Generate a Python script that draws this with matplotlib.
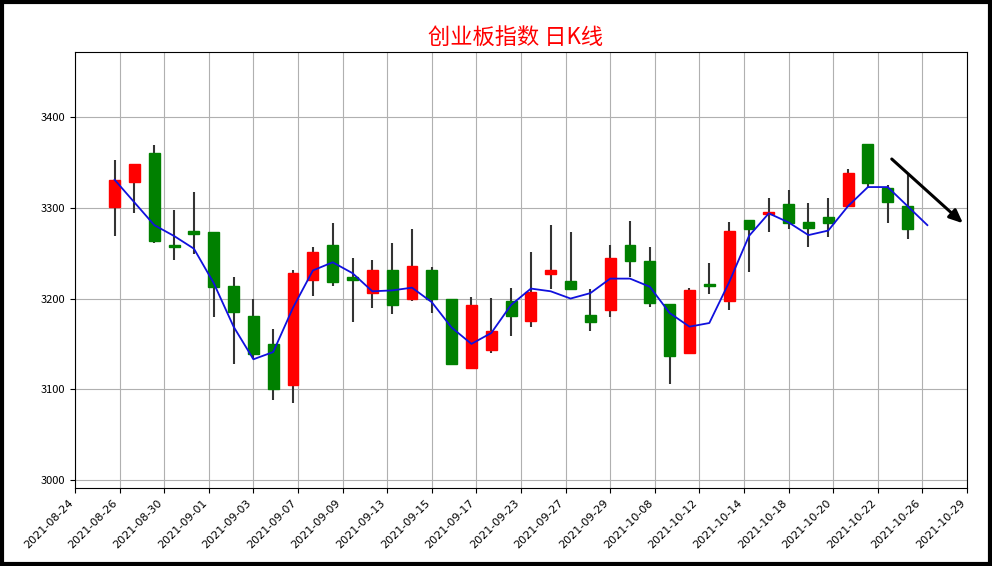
import matplotlib
matplotlib.use("Agg")
import matplotlib.pyplot as plt
from matplotlib.patches import Rectangle
import numpy as np

plt.rcParams['font.family'] = ['Noto Sans CJK SC', 'DejaVu Sans']

opens  = [3301,3329,3361,3259,3275,3273,3214,3181,3150,3105,3221,3259,3224,3206,3231,3199,3232,3199,3123,3143,3197,3175,3227,3219,3182,3187,3259,3241,3194,3140,3216,3197,3287,3293,3304,3285,3290,3302,3370,3322,3302]
closes = [3331,3348,3263,3257,3271,3213,3185,3139,3100,3228,3251,3218,3221,3231,3193,3236,3199,3128,3193,3164,3181,3207,3231,3210,3174,3245,3241,3195,3137,3209,3214,3275,3277,3296,3283,3278,3283,3338,3327,3307,3277]
highs  = [3353,3348,3369,3298,3318,3273,3224,3200,3166,3232,3257,3283,3245,3242,3261,3277,3235,3199,3202,3201,3212,3251,3281,3273,3210,3259,3286,3257,3194,3212,3239,3285,3287,3311,3320,3305,3311,3343,3370,3325,3338]
lows   = [3269,3294,3261,3242,3249,3180,3128,3133,3088,3085,3203,3214,3174,3190,3183,3197,3184,3128,3122,3140,3159,3169,3210,3210,3164,3180,3224,3191,3106,3140,3205,3187,3229,3273,3277,3257,3268,3302,3322,3283,3266]
ma_line = [3331,3306,3281,3269,3255,3217,3169,3133,3141,3190,3231,3240,3228,3208,3209,3212,3196,3168,3150,3162,3193,3211,3208,3200,3206,3222,3222,3213,3184,3169,3173,3218,3269,3294,3284,3270,3275,3302,3323,3323,3302,3281]
tick_labels = ['2021-08-24','2021-08-26','2021-08-30','2021-09-01','2021-09-03','2021-09-07','2021-09-09',
               '2021-09-13','2021-09-15','2021-09-17','2021-09-23','2021-09-27','2021-09-29','2021-10-08',
               '2021-10-12','2021-10-14','2021-10-18','2021-10-20','2021-10-22','2021-10-26','2021-10-29']

fig = plt.figure(figsize=(9.92, 5.66), dpi=100)
ax = fig.add_axes([75/992, 1-488/566, (967-75)/992, (488-52)/566])

w = 0.55
for i, (o, c, h, l) in enumerate(zip(opens, closes, highs, lows)):
    col = 'red' if c > o else 'green'
    ax.vlines(i, l, h, color='#333333', linewidth=1.5, zorder=2)
    bot = min(o, c)
    ht = max(abs(c - o), 1.5)
    ax.add_patch(Rectangle((i - w/2, bot), w, ht, facecolor=col, edgecolor=col, zorder=3))

ax.plot(np.arange(len(ma_line)), ma_line, color='#1010dd', linewidth=1.3, zorder=4)

ax.annotate('', xy=(42.9, 3281), xytext=(39.1, 3356),
            arrowprops=dict(arrowstyle='-|>,head_width=0.35,head_length=0.8', color='black', lw=2.2))

ax.set_xlim(-2, 43)
ax.set_ylim(2991, 3472)
ax.set_yticks([3000, 3100, 3200, 3300, 3400])
ax.set_xticks(np.linspace(-2, 43, 21))
ax.set_xticklabels(tick_labels, rotation=45, ha='right', fontsize=8, family=['DejaVu Sans'])
ax.tick_params(axis='y', labelsize=8)
ax.grid(True, color='#b0b0b0', linewidth=0.8)
ax.set_axisbelow(True)

fig.text(0.52, 1-37/566, '创业板指数 日K线', color='red', fontsize=16, ha='center', va='center')
fig.patches.append(Rectangle((0.002, 0.003), 0.996, 0.994, transform=fig.transFigure,
                             fill=False, edgecolor='black', linewidth=3))

fig.savefig('out.png', dpi=100)
